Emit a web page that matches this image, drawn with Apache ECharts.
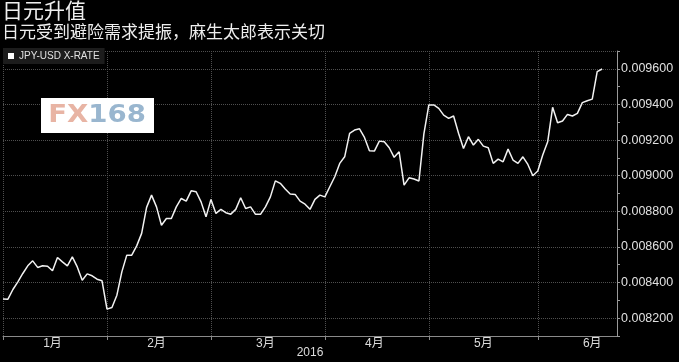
<!DOCTYPE html>
<html>
<head>
<meta charset="utf-8">
<script src="https://cdn.jsdelivr.net/npm/echarts@6/dist/echarts.min.js"></script>
<style>
html,body{margin:0;padding:0;background:#000;}
#chart{width:679px;height:362px;}
</style>
</head>
<body>
<div id="chart"></div>
<script>
// ---- data ----
var titleText = '日元升值';
var subtitleText = '日元受到避险需求提振，麻生太郎表示关切';
var seriesName = 'JPY-USD X-RATE';
var yearLabel = '2016';
var monthNames = ['1月', '2月', '3月', '4月', '5月', '6月'];
// weekday (trading-day) counts per month, 2016
var monthTradingDays = [21, 21, 23, 21, 22, 22];
var axisDays = 125; // number of trading-day slots shown on the x axis
var yTicks = [0.0082, 0.0084, 0.0086, 0.0088, 0.0090, 0.0092, 0.0094, 0.0096];
var rateValues = [
  0.008308, 0.008307, 0.008361, 0.008404, 0.008451, 0.008494, 0.008522, 0.008485, 0.008494, 0.008492,
  0.008466, 0.008541, 0.008516, 0.008494, 0.008544, 0.008488, 0.008413, 0.008449, 0.008438, 0.008419,
  0.008410, 0.008251, 0.008260, 0.008329, 0.008460, 0.008554, 0.008554, 0.008606, 0.008676, 0.008822,
  0.008891, 0.008825, 0.008722, 0.008760, 0.008760, 0.008825, 0.008872, 0.008857, 0.008915, 0.008910,
  0.008853, 0.008769, 0.008867, 0.008788, 0.008811, 0.008792, 0.008784, 0.008811, 0.008876, 0.008816,
  0.008825, 0.008783, 0.008783, 0.008825, 0.008881, 0.008971, 0.008957, 0.008925, 0.008897, 0.008895,
  0.008857, 0.008840, 0.008811, 0.008867, 0.008891, 0.008881, 0.008938, 0.008994, 0.009069, 0.009106,
  0.009238, 0.009256, 0.009263, 0.009215, 0.009140, 0.009138, 0.009194, 0.009190, 0.009157, 0.009103,
  0.009134, 0.008947, 0.008988, 0.008981, 0.008970, 0.009235, 0.009397, 0.009397, 0.009378, 0.009340,
  0.009322, 0.009335, 0.009238, 0.009153, 0.009219, 0.009172, 0.009204, 0.009166, 0.009157, 0.009069,
  0.009093, 0.009078, 0.009149, 0.009088, 0.009069, 0.009106, 0.009063, 0.009000, 0.009026, 0.009116,
  0.009190, 0.009384, 0.009297, 0.009307, 0.009344, 0.009335, 0.009350, 0.009410, 0.009421, 0.009430,
  0.009584, 0.009599
];

// ---- build categories (weekdays of 2016) ----
var categories = [];
(function () {
  var d = new Date(2016, 0, 1);
  while (categories.length < axisDays) {
    var wd = d.getDay();
    if (wd !== 0 && wd !== 6) {
      categories.push((d.getMonth() + 1) + '/' + d.getDate());
    }
    d.setDate(d.getDate() + 1);
  }
})();
var monthStart = {};
var monthMid = {};
(function () {
  var s = 0;
  for (var m = 0; m < monthTradingDays.length; m++) {
    monthStart[s] = true;
    monthMid[Math.round((s + s + monthTradingDays[m] - 1) / 2)] = monthNames[m];
    s += monthTradingDays[m];
  }
})();

var yMin = 0.0081, yMax = 0.0097, yStep = 0.0001;
var splitColors = [];
for (var v = yMin; v <= yMax + 1e-9; v += yStep) {
  var k = Math.round(v * 10000);
  var isMajor = yTicks.some(function (t) { return Math.round(t * 10000) === k; });
  splitColors.push(isMajor || k === 97 ? '#4f4f4f' : 'rgba(0,0,0,0)');
}

var chart = echarts.init(document.getElementById('chart'));
chart.setOption({
  backgroundColor: '#000',
  animation: false,
  title: [
    { text: titleText, left: 2, top: 0, padding: 0,
      textStyle: { color: '#eeeeee', fontSize: 21, fontWeight: 'normal', fontFamily: 'Noto Sans CJK SC' } },
    { text: subtitleText, left: 2, top: 23, padding: 0,
      textStyle: { color: '#eeeeee', fontSize: 17, fontWeight: 'normal', fontFamily: 'Noto Sans CJK SC' } }
  ],
  legend: {
    left: 3, top: 48,
    backgroundColor: '#1c1c1c',
    padding: [3, 5, 3, 5],
    icon: 'rect', itemWidth: 6, itemHeight: 6, itemGap: 4,
    textStyle: { color: '#e0e0e0', fontSize: 10, fontFamily: 'Liberation Sans' },
    data: [{ name: seriesName, itemStyle: { color: '#ffffff' } }]
  },
  grid: { left: 3, right: 62, top: 51, bottom: 26, containLabel: false, outerBoundsMode: 'none' },
  xAxis: {
    type: 'category',
    boundaryGap: false,
    data: categories,
    axisLine: { lineStyle: { color: '#8a8a8a', width: 1 } },
    axisTick: {
      interval: function (i) { return !!monthStart[i]; },
      length: 4, lineStyle: { color: '#8a8a8a' }
    },
    axisLabel: {
      interval: function (i) { return monthMid[i] !== undefined; },
      formatter: function (val, i) { return monthMid[i] || ''; },
      color: '#dddddd', fontSize: 12, margin: 2,
      fontFamily: 'Liberation Sans, Noto Sans CJK SC'
    },
    splitLine: {
      show: true,
      interval: function (i) { return !!monthStart[i]; },
      lineStyle: { type: 'dotted', color: '#4f4f4f', width: 1 }
    },
    name: yearLabel,
    nameLocation: 'middle',
    nameGap: 11,
    nameMoveOverlap: false,
    nameTextStyle: { color: '#dddddd', fontSize: 12, fontFamily: 'Liberation Sans' }
  },
  yAxis: {
    type: 'value',
    position: 'right',
    min: yMin, max: yMax, interval: yStep,
    axisLine: { show: true, lineStyle: { color: '#9a9a9a', width: 1 } },
    axisTick: { show: true, length: 3, lineStyle: { color: '#9a9a9a' } },
    axisLabel: {
      color: '#e0e0e0', fontSize: 12.5, margin: 4, fontFamily: 'Liberation Sans',
      formatter: function (v) {
        var k = Math.round(v * 10000);
        return yTicks.some(function (t) { return Math.round(t * 10000) === k; }) ? v.toFixed(6) : '';
      }
    },
    splitLine: { show: true, lineStyle: { type: 'dotted', color: splitColors, width: 1 } }
  },
  graphic: [
    {
      type: 'group', left: 41, top: 98, z: 100,
      children: [
        { type: 'rect', z: 100, shape: { x: 0, y: 0, width: 113, height: 35 }, style: { fill: '#ffffff' } },
        {
          type: 'text', z: 101, x: 56, y: 18, scaleX: 1.15,
          style: {
            text: '{a|FX}{b|168}',
            align: 'center', verticalAlign: 'middle',
            rich: {
              a: { fill: '#e8b4a4', fontSize: 24, fontWeight: 'bold', fontFamily: 'DejaVu Sans' },
              b: { fill: '#99b6cf', fontSize: 24, fontWeight: 'bold', fontFamily: 'DejaVu Sans' }
            }
          }
        }
      ]
    }
  ],
  series: [{
    name: seriesName,
    type: 'line',
    data: rateValues,
    showSymbol: false,
    symbol: 'none',
    lineStyle: { color: '#f2f2f2', width: 1.5 },
    itemStyle: { color: '#ffffff' }
  }]
});
</script>
</body>
</html>
